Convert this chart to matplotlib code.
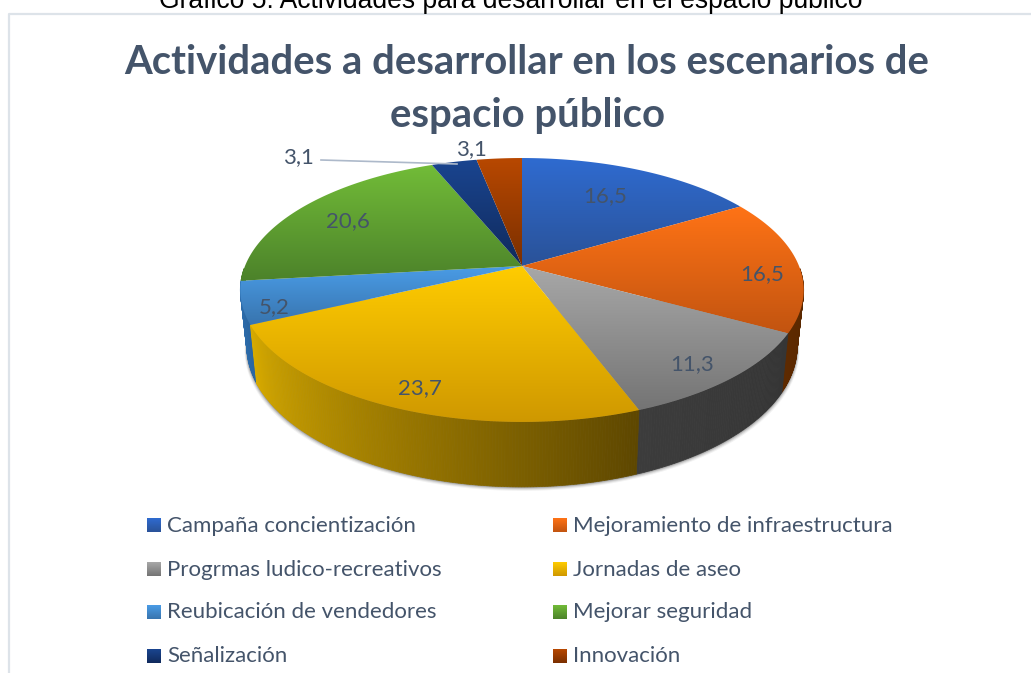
import numpy as np
import matplotlib
matplotlib.use("Agg")
from matplotlib import pyplot as plt
from matplotlib.colors import LinearSegmentedColormap, to_rgb
from matplotlib.patches import Polygon

# datos
categorias = ["Campaña concientización", "Mejoramiento de infraestructura",
              "Progrmas ludico-recreativos", "Jornadas de aseo",
              "Reubicación de vendedores", "Mejorar seguridad",
              "Señalización", "Innovación"]
valores = [16.5, 16.5, 11.3, 23.7, 5.2, 20.6, 3.1, 3.1]
etiquetas = ["16,5", "16,5", "11,3", "23,7", "5,2", "20,6", "3,1", "3,1"]

# colores de arriba hacia abajo en cada porcion
color_claro = ["#2F6BD0", "#FF7316", "#A8A8A8", "#FFCC00", "#4A9CE6", "#72BC38", "#1A4590", "#B84800"]
color_oscuro = ["#2A5298", "#C25410", "#747474", "#CF9800", "#3874AE", "#4C822A", "#102A5C", "#7A2F00"]
# el angulo crece de derecha a izquierda en el frente
lado_ini = ["#2A5298", "#4E2200", "#353535", "#5E4700", "#2A66A2", "#4C822A", "#102A5C", "#7A2F00"]
lado_fin = ["#2A5298", "#5E2A00", "#3C3C3C", "#D8AB00", "#2F72B4", "#4C822A", "#102A5C", "#7A2F00"]

etiq_x = [605, 762, 692, 420, 274, 348, 298, 471]
etiq_y = [196, 274, 364, 388, 307, 221, 157, 149]

TEXTO = "#44546A"
CX, CY = 522, 266
K, A, B = 0.1818, 127.6, 277


def arriba(theta):
    # perspectiva del disco superior, theta desde las 12 en sentido horario
    d = 1 + K * np.cos(theta)
    return CX + B * np.sin(theta) / d, CY - A * np.cos(theta) / d


def abajo(theta):
    x, y = arriba(theta)
    return CX + 0.977 * (x - CX), y + 59 + (y - 333) * 0.067


def degradado(ax, puntos, c1, c2, zorder=3):
    puntos = np.array(puntos)
    cmap = LinearSegmentedColormap.from_list("g", [c1, c2])
    x0, y0 = puntos.min(axis=0)
    x1, y1 = puntos.max(axis=0)
    im = ax.imshow(np.linspace(0, 1, 256).reshape(-1, 1), cmap=cmap, aspect="auto",
                   extent=(x0, x1, y1, y0), zorder=zorder, interpolation="bilinear")
    poli = Polygon(puntos, closed=True, transform=ax.transData, facecolor="none", edgecolor="none")
    ax.add_patch(poli)
    im.set_clip_path(poli)


fig = plt.figure(figsize=(10.31, 6.73), dpi=100)
ax = fig.add_axes([0, 0, 1, 1])

# marco del grafico, solo se ve arriba y a la izquierda
ax.plot([9, 9, 1040], [680, 13.5, 13.5], color="#DDE3E9", lw=1.6, zorder=1)
fig.text(511 / 1031, 1 - 8 / 673, "Gráfico 5: Actividades para desarrollar en el espacio público",
         family="Liberation Sans", fontsize=19.1, color="black", ha="center", va="baseline")

ax.text(527, 62, "Actividades a desarrollar en los escenarios de", family="Lato", weight="bold",
        fontsize=28.8, color=TEXTO, ha="center", va="center")
ax.text(527, 115, "espacio público", family="Lato", weight="bold",
        fontsize=28.8, color=TEXTO, ha="center", va="center")

limites = np.concatenate([[0], np.cumsum(valores)]) / sum(valores) * 2 * np.pi

# sombra bajo el borde
t = np.linspace(np.radians(80), np.radians(280), 200)
for off, alpha in [(4, 0.05), (3, 0.08), (2, 0.12), (1, 0.18)]:
    xs, ys = abajo(t)
    xs = CX + (xs - CX) * (1 + off * 0.002)
    ax.add_patch(Polygon(np.column_stack([xs, ys + off]), closed=True, facecolor="black",
                         edgecolor="none", alpha=alpha, zorder=2))

# pared lateral
lados = []
for i in range(len(valores)):
    a0, a1 = limites[i], limites[i + 1]
    n = max(int(np.degrees(a1 - a0)), 1) * 2
    ts = np.linspace(a0, a1, n + 1)
    for j in range(n):
        if np.cos(ts[j]) > -0.02 and np.cos(ts[j + 1]) > -0.02:
            continue
        f = j / n
        col = (1 - f) * np.array(to_rgb(lado_ini[i])) + f * np.array(to_rgb(lado_fin[i]))
        xa, ya = arriba(ts[j:j + 2])
        xb, yb = abajo(ts[j:j + 2])
        lados.append((ya.mean(), [(xa[0], ya[0]), (xa[1], ya[1]), (xb[1], yb[1]), (xb[0], yb[0])], col))
for prof, quad, col in sorted(lados, key=lambda q: q[0]):
    ax.add_patch(Polygon(quad, closed=True, facecolor=col, edgecolor=col, lw=0.5, zorder=2.5))

# cara superior
for i in range(len(valores)):
    ts = np.linspace(limites[i], limites[i + 1], 120)
    xs, ys = arriba(ts)
    pts = [(CX, CY)] + list(zip(xs, ys))
    degradado(ax, pts, color_claro[i], color_oscuro[i])

# etiquetas
for x, y, s in zip(etiq_x, etiq_y, etiquetas):
    ax.text(x, y, s, family="Lato", fontsize=16, color=TEXTO, ha="center", va="center", zorder=5)
ax.plot([321, 457], [160, 164], color="#ADB9CA", lw=1.2, zorder=4)

# leyenda
ley_x = [147, 553]
ley_y = [525, 569, 612, 656]
for i, nombre in enumerate(categorias):
    x = ley_x[i % 2]
    y = ley_y[i // 2]
    degradado(ax, [(x, y - 7), (x + 14, y - 7), (x + 14, y + 7), (x, y + 7)], color_claro[i], color_oscuro[i])
    ax.text(x + 20, y + 0.5, nombre, family="Lato", fontsize=16, color=TEXTO, ha="left", va="center")

ax.set_xlim(0, 1031)
ax.set_ylim(673, 0)
ax.axis("off")
fig.savefig("out.png", dpi=100)
